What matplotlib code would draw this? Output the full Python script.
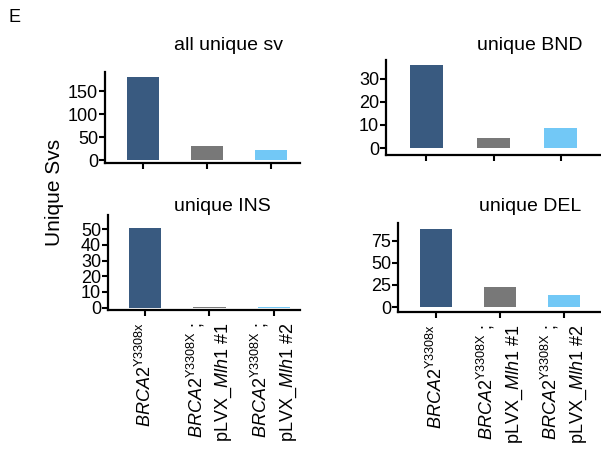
import matplotlib
matplotlib.use("Agg")
import matplotlib.pyplot as plt

plt.rcParams["font.family"] = ["Liberation Sans", "DejaVu Sans"]
plt.rcParams["mathtext.fontset"] = "custom"
plt.rcParams["mathtext.rm"] = "Liberation Sans"
plt.rcParams["mathtext.it"] = "Liberation Sans:italic"

# --- data ---
groups = [
    r"$\mathit{BRCA2}^{\mathrm{Y3308x}}$",
    r"$\mathit{BRCA2}^{\mathrm{Y3308X}}$ ;" + "\n" + r"pLVX_$\mathit{Mlh1}$ #1",
    r"$\mathit{BRCA2}^{\mathrm{Y3308X}}$ ;" + "\n" + r"pLVX_$\mathit{Mlh1}$ #2",
]
colors = ["#395a80", "#787878", "#72c8f6"]

all_sv = [181, 30, 22]
bnd = [36, 4.5, 8.5]
ins = [51, 0.5, 0.5]
dele = [88, 23, 14]

W, H = 601, 450
fig = plt.figure(figsize=(6.01, 4.5), dpi=100)


def make_axes(x0, x1, ytop, ybot):
    return fig.add_axes([x0 / W, 1 - ybot / H, (x1 - x0) / W, (ybot - ytop) / H])


panels = [
    # values, title, px box, xlim, ylim, yticks, show labels, title x/y (px)
    (all_sv, "all unique sv", (105, 300, 72, 163), (-0.59, 2.45), (-6, 192), [0, 50, 100, 150], False, (228, 45)),
    (bnd, "unique BND", (386, 601, 60, 155), (-0.6, 2.6), (-3, 38), [0, 10, 20, 30], False, (530, 45)),
    (ins, "unique INS", (108, 300, 215, 310), (-0.57, 2.4), (-1.5, 59), [0, 10, 20, 30, 40, 50], True, (222, 207)),
    (dele, "unique DEL", (398, 601, 223, 312), (-0.59, 2.58), (-5.5, 95), [0, 25, 50, 75], True, (530, 207)),
]

for vals, title, box, xl, yl, yt, show, (tx, ty) in panels:
    ax = make_axes(*box)
    ax.bar(range(3), vals, width=0.5, color=colors)
    ax.set_xlim(*xl)
    ax.set_ylim(*yl)
    ax.set_yticks(yt)
    ax.set_xticks(range(3))
    for s in ["top", "right"]:
        ax.spines[s].set_visible(False)
    for s in ["left", "bottom"]:
        ax.spines[s].set_linewidth(1.6)
    ax.tick_params(width=1.5, length=4, labelsize=13, pad=1)
    if show:
        ax.set_xticklabels(groups, rotation=90, fontsize=13, ha="center", va="top",
                           multialignment="right", linespacing=1.5)
        ax.tick_params(axis="x", pad=5)
    else:
        ax.set_xticklabels([])
    fig.text(tx / W, 1 - ty / H, title, ha="center", va="center", fontsize=14)

fig.text(15 / W, 1 - 18 / H, "E", ha="center", va="center", fontsize=13)
fig.text(55 / W, 1 - 192 / H, "Unique Svs", ha="center", va="center", fontsize=15,
         rotation=90)

fig.savefig("out.png", dpi=100)
